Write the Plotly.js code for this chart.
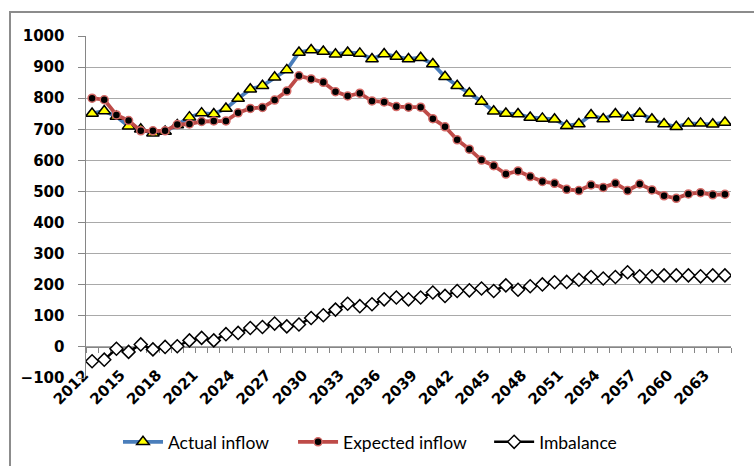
<!DOCTYPE html>
<html>
<head>
<meta charset="utf-8">
<script src="https://cdn.plot.ly/plotly-3.0.1.min.js"></script>
<style>
html,body{margin:0;padding:0;background:#fff;overflow:hidden;}
#wrap{position:relative;width:754px;height:466px;}
#chart{width:754px;height:466px;}
#frame{position:absolute;left:9px;top:11px;width:800px;height:500px;border-left:2px solid #8c8c8c;border-top:2px solid #8c8c8c;pointer-events:none;}
</style>
</head>
<body>
<div id="wrap"><div id="chart"></div><div id="frame"></div></div>
<script>
const years = [2012,2013,2014,2015,2016,2017,2018,2019,2020,2021,2022,2023,2024,2025,2026,2027,2028,2029,2030,2031,2032,2033,2034,2035,2036,2037,2038,2039,2040,2041,2042,2043,2044,2045,2046,2047,2048,2049,2050,2051,2052,2053,2054,2055,2056,2057,2058,2059,2060,2061,2062,2063,2064];
const actualInflow = [751,759,741,710,700,687,693,714,739,752,749,767,799,829,840,867,891,947,955,950,941,947,944,926,942,934,926,930,910,869,840,816,789,758,751,749,738,735,732,711,717,746,733,749,738,751,732,717,708,719,719,716,722];
const expectedInflow = [800,795,746,728,695,695,695,715,717,725,727,727,753,767,770,794,823,872,862,851,821,807,816,791,788,773,771,771,734,708,666,636,601,583,556,566,548,532,526,507,503,521,513,526,503,524,505,486,478,492,496,489,491];
const imbalance = [-46,-41,-6,-16,8,-8,0,2,21,29,21,41,45,61,64,75,66,72,93,102,120,139,131,137,153,159,153,159,175,164,180,182,188,180,198,184,195,201,208,209,216,225,220,225,240,227,227,230,230,230,227,230,230];
const seriesNames = ["Actual inflow","Expected inflow","Imbalance"];

const traces = [
  {x: years, y: actualInflow, name: seriesNames[0], type: 'scatter', mode: 'lines+markers', legend: 'legend',
   line: {color: '#4a7ebb', width: 3.8},
   marker: {symbol: 'triangle-up', size: 11, color: '#ffff00', line: {color: '#000', width: 1.5}}},
  {x: years, y: expectedInflow, name: seriesNames[1], type: 'scatter', mode: 'lines+markers', legend: 'legend2',
   line: {color: '#be4b48', width: 3.8},
   marker: {symbol: 'circle', size: 8, color: '#000', line: {color: '#d46a67', width: 1.5}}},
  {x: years, y: imbalance, name: seriesNames[2], type: 'scatter', mode: 'lines+markers', xaxis: 'x2', legend: 'legend3',
   line: {color: '#000', width: 2.5},
   marker: {symbol: 'diamond', size: 10, color: '#fff', line: {color: '#000', width: 1.5}}}
];

const tickFont = {family: '"DejaVu Sans", Verdana, sans-serif', size: 15, weight: 700, color: '#000'};
const legendFont = {family: 'Lato', size: 17.5, color: '#000'};
function legendAt(xFrac) {
  return {orientation: 'h', x: xFrac, xanchor: 'left', y: -0.187, yanchor: 'middle', itemwidth: 40,
          font: legendFont, bgcolor: 'rgba(0,0,0,0)'};
}
const layout = {
  width: 754, height: 466,
  margin: {l: 86, r: 23, t: 36, b: 88, autoexpand: false},
  paper_bgcolor: '#fff', plot_bgcolor: '#fff',
  showlegend: true,
  legend: legendAt(0.0496),
  legend2: legendAt(0.321),
  legend3: legendAt(0.625),
  xaxis: {range: [2011.5, 2064.5], tick0: 2012, dtick: 3, tickangle: -45, anchor: 'free', position: 0.046,
          automargin: false, ticklabelshift: -8,
          showline: false, showgrid: false, zeroline: false, ticks: '', tickfont: tickFont},
  xaxis2: {range: [2011.5, 2064.5], overlaying: 'x', anchor: 'free', position: 100/1100,
           automargin: false,
           tick0: 2011.5, dtick: 1, ticks: 'outside', ticklen: 5, tickcolor: '#868686',
           showticklabels: false, showline: true, linecolor: '#868686', linewidth: 1.5,
           showgrid: false, zeroline: false, layer: 'below traces'},
  yaxis: {range: [-100, 1000], dtick: 100, showline: true, linecolor: '#868686', linewidth: 1.5,
          automargin: false,
          ticks: 'outside', ticklen: 7, tickcolor: '#868686', showgrid: true, gridcolor: '#a9a9a9',
          gridwidth: 1, zeroline: false, tickfont: tickFont, ticklabelstandoff: 10}
};
Plotly.newPlot('chart', traces, layout, {displayModeBar: false, staticPlot: true});
</script>
</body>
</html>
